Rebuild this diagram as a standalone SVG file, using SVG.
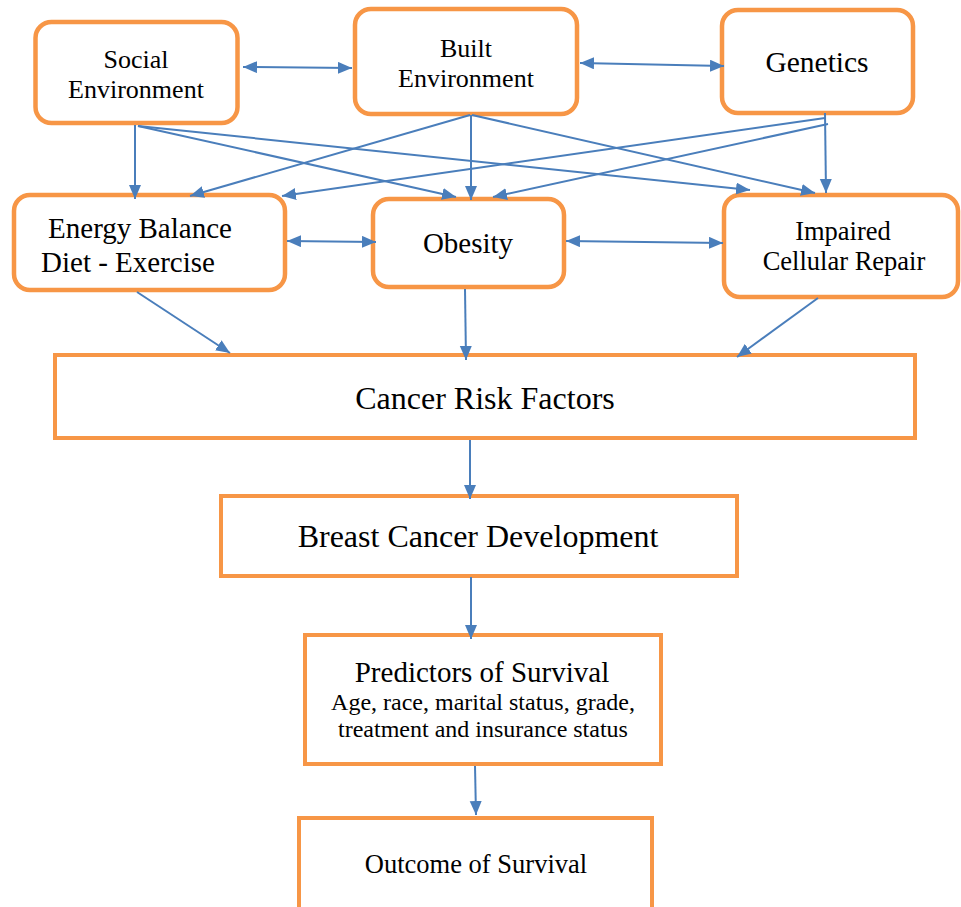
<svg xmlns="http://www.w3.org/2000/svg" width="961" height="907" viewBox="0 0 961 907">
<style>
.rb{fill:#fff;stroke:#F79646;stroke-width:4.5}
.sq{fill:#fff;stroke:#F79646;stroke-width:4}
.t{font-family:"Liberation Serif","Times New Roman",serif;fill:#000;text-anchor:middle}
.c line{stroke:#4A7EBB;stroke-width:2}
.one{marker-end:url(#ah)}
.two{marker-start:url(#ah);marker-end:url(#ah)}
</style>
<defs>
<marker id="ah" markerUnits="userSpaceOnUse" markerWidth="15" markerHeight="13" refX="14" refY="6" orient="auto-start-reverse" viewBox="0 0 15 13">
<path d="M0,0 L14,6 L0,12 z" fill="#4A7EBB"/>
</marker>
</defs>
<rect width="961" height="907" fill="#fff"/>
<g id="social"><rect class="rb" x="35.5" y="22" width="202" height="101" rx="16"/>
<text class="t" font-size="26" x="136" y="68">Social</text><text class="t" font-size="26" x="136" y="98">Environment</text></g>
<g id="built"><rect class="rb" x="355" y="9" width="222" height="105" rx="16"/>
<text class="t" font-size="26" x="466" y="57">Built</text><text class="t" font-size="26" x="466" y="87">Environment</text></g>
<g id="genetics"><rect class="rb" x="722" y="10" width="191" height="103" rx="16"/>
<text class="t" font-size="29.5" x="817" y="72">Genetics</text></g>
<g id="energy"><rect class="rb" x="14" y="195" width="271" height="95" rx="16"/>
<text class="t" font-size="29" x="140" y="238">Energy Balance</text><text class="t" font-size="29" x="128" y="272">Diet - Exercise</text></g>
<g id="obesity"><rect class="rb" x="373" y="199" width="191" height="88" rx="16"/>
<text class="t" font-size="29" x="468" y="253">Obesity</text></g>
<g id="impaired"><rect class="rb" x="724" y="195" width="234" height="102" rx="16"/>
<text class="t" font-size="26.5" x="843" y="240">Impaired</text><text class="t" font-size="26.5" x="844" y="270">Cellular Repair</text></g>
<g id="risk"><rect class="sq" x="55" y="355" width="860" height="83"/>
<text class="t" font-size="32" x="485" y="409">Cancer Risk Factors</text></g>
<g id="breast"><rect class="sq" x="221" y="496" width="516" height="80"/>
<text class="t" font-size="32" x="478" y="547">Breast Cancer Development</text></g>
<g id="predictors"><rect class="sq" x="305" y="635" width="356" height="129"/>
<text class="t" font-size="29" x="482" y="682">Predictors of Survival</text>
<text class="t" font-size="24" x="483" y="710">Age, race, marital status, grade,</text>
<text class="t" font-size="24" x="483" y="737">treatment and insurance status</text></g>
<g id="outcome"><rect class="sq" x="299" y="818" width="353" height="110"/>
<text class="t" font-size="26.5" x="476" y="873">Outcome of Survival</text></g>
<g id="connectors" class="c">
<line class="two" x1="243" y1="67" x2="352" y2="68"/>
<line class="two" x1="580" y1="63" x2="724" y2="66"/>
<line class="two" x1="287" y1="241" x2="376" y2="242"/>
<line class="two" x1="566" y1="241" x2="723" y2="243"/>
<line class="one" x1="135" y1="125" x2="135" y2="199"/>
<line class="one" x1="138" y1="126" x2="456" y2="197"/>
<line class="one" x1="138" y1="126" x2="750" y2="190"/>
<line class="one" x1="470" y1="115" x2="190" y2="196"/>
<line class="one" x1="471" y1="115" x2="471" y2="200"/>
<line class="one" x1="472" y1="115" x2="815" y2="193"/>
<line class="one" x1="825" y1="118" x2="282" y2="196"/>
<line class="one" x1="828" y1="124" x2="493" y2="197"/>
<line class="one" x1="825" y1="113" x2="826" y2="193"/>
<line class="one" x1="137" y1="292" x2="230" y2="353"/>
<line class="one" x1="465" y1="289" x2="466" y2="360"/>
<line class="one" x1="818" y1="298" x2="737" y2="357"/>
<line class="one" x1="470" y1="440" x2="470" y2="499"/>
<line class="one" x1="471" y1="577" x2="471" y2="639"/>
<line class="one" x1="475" y1="766" x2="476" y2="815"/>
</g>
</svg>
